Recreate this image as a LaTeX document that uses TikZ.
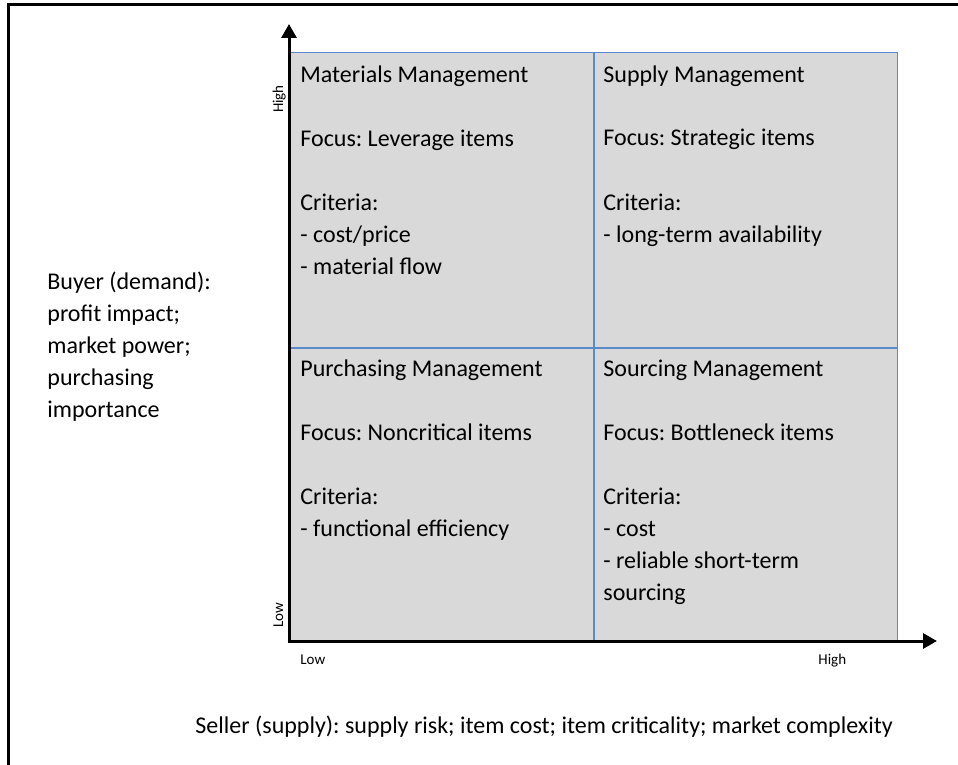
\documentclass[tikz,border=0pt]{standalone}
\usepackage{fontspec}
\setmainfont{Carlito}
\usepackage{xcolor}
\usetikzlibrary{positioning,arrows.meta,calc}
\frenchspacing
\definecolor{quadfill}{HTML}{D9D9D9}
\definecolor{quadline}{HTML}{5B8ACB}
\tikzset{
  frame/.style={line width=1.5pt, black},
  axis/.style={line width=1.5pt, -{Triangle[length=7pt, width=7.5pt]}},
  quad/.style={
     draw=quadline,
     fill=quadfill,
     line width=0.6pt,
     inner sep=0pt,
     minimum width=152pt,
     minimum height=147.5pt},
  divider/.style={draw=quadline, line width=0.6pt},
  qtext/.style={
     font=\fontsize{12}{16}\selectfont,
     align=left,
     inner sep=0pt},
  tick label/.style={font=\fontsize{7.5}{9}\selectfont, inner sep=0pt}
}
\begin{document}
\begin{tikzpicture}[x=0.5pt, y=-0.5pt]
    \useasboundingbox (0,0) rectangle (958,765);
    % frame: only the top and left edges show
    \draw[frame] (958,5) -- (8,5) -- (8,765);

    % the four quadrants
    \node[quad, anchor=north west] (mm) at (289,52) {};
    \node[quad, anchor=north west] (sm) at (593,52) {};
    \node[quad, anchor=north west] (pm) at (289,347) {};
    \node[quad, anchor=north west] (so) at (593,347) {};
    % dividing lines on top of the fills
    \draw[divider] (mm.north east) -- (pm.south east);
    \draw[divider] (mm.south west) -- (sm.south east);

    % axes
    \coordinate (origin) at (289,641);
    \coordinate (ytip) at (289,24);
    \coordinate (xtip) at (937,641);
    \draw[axis] (origin) -- (ytip);
    \draw[axis] ($(origin)+(-1.5,0)$) -- (xtip);

    % quadrant texts (base = baseline of the last line)
    \node[qtext, anchor=base west] (mmtext) at (300,274)
      {Materials Management\\ \\Focus: Leverage items\\ \\Criteria:\\- cost/price\\- material flow};
    \node[qtext, anchor=base west] (smtext) at (603,242)
      {Supply Management\\ \\Focus: Strategic items\\ \\Criteria:\\- long-term availability};
    \node[qtext, anchor=base west] (pmtext) at (300,536)
      {Purchasing Management\\ \\Focus: Noncritical items\\ \\Criteria:\\- functional efficiency};
    \node[qtext, anchor=base west] (sotext) at (603,600)
      {Sourcing Management\\ \\Focus: Bottleneck items\\ \\Criteria:\\- cost\\- reliable short-term\\sourcing};

    % axis labels
    \node[tick label, rotate=90, anchor=base] (yhigh) at (283,99) {High};
    \node[tick label, rotate=90, anchor=base] (ylow) at (283,615) {Low};
    \node[tick label, anchor=base west] (xlow) at (300,664) {Low};
    \node[tick label, anchor=base west] (xhigh) at (818,664) {High};

    % axis titles
    \node[qtext, anchor=base west] (buyer) at (47,417)
      {Buyer (demand):\\profit impact;\\market power;\\purchasing\\importance};
    \node[qtext, anchor=base west] (seller) at (195,733)
      {Seller (supply): supply risk; item cost; item criticality; market complexity};
\end{tikzpicture}
\end{document}
